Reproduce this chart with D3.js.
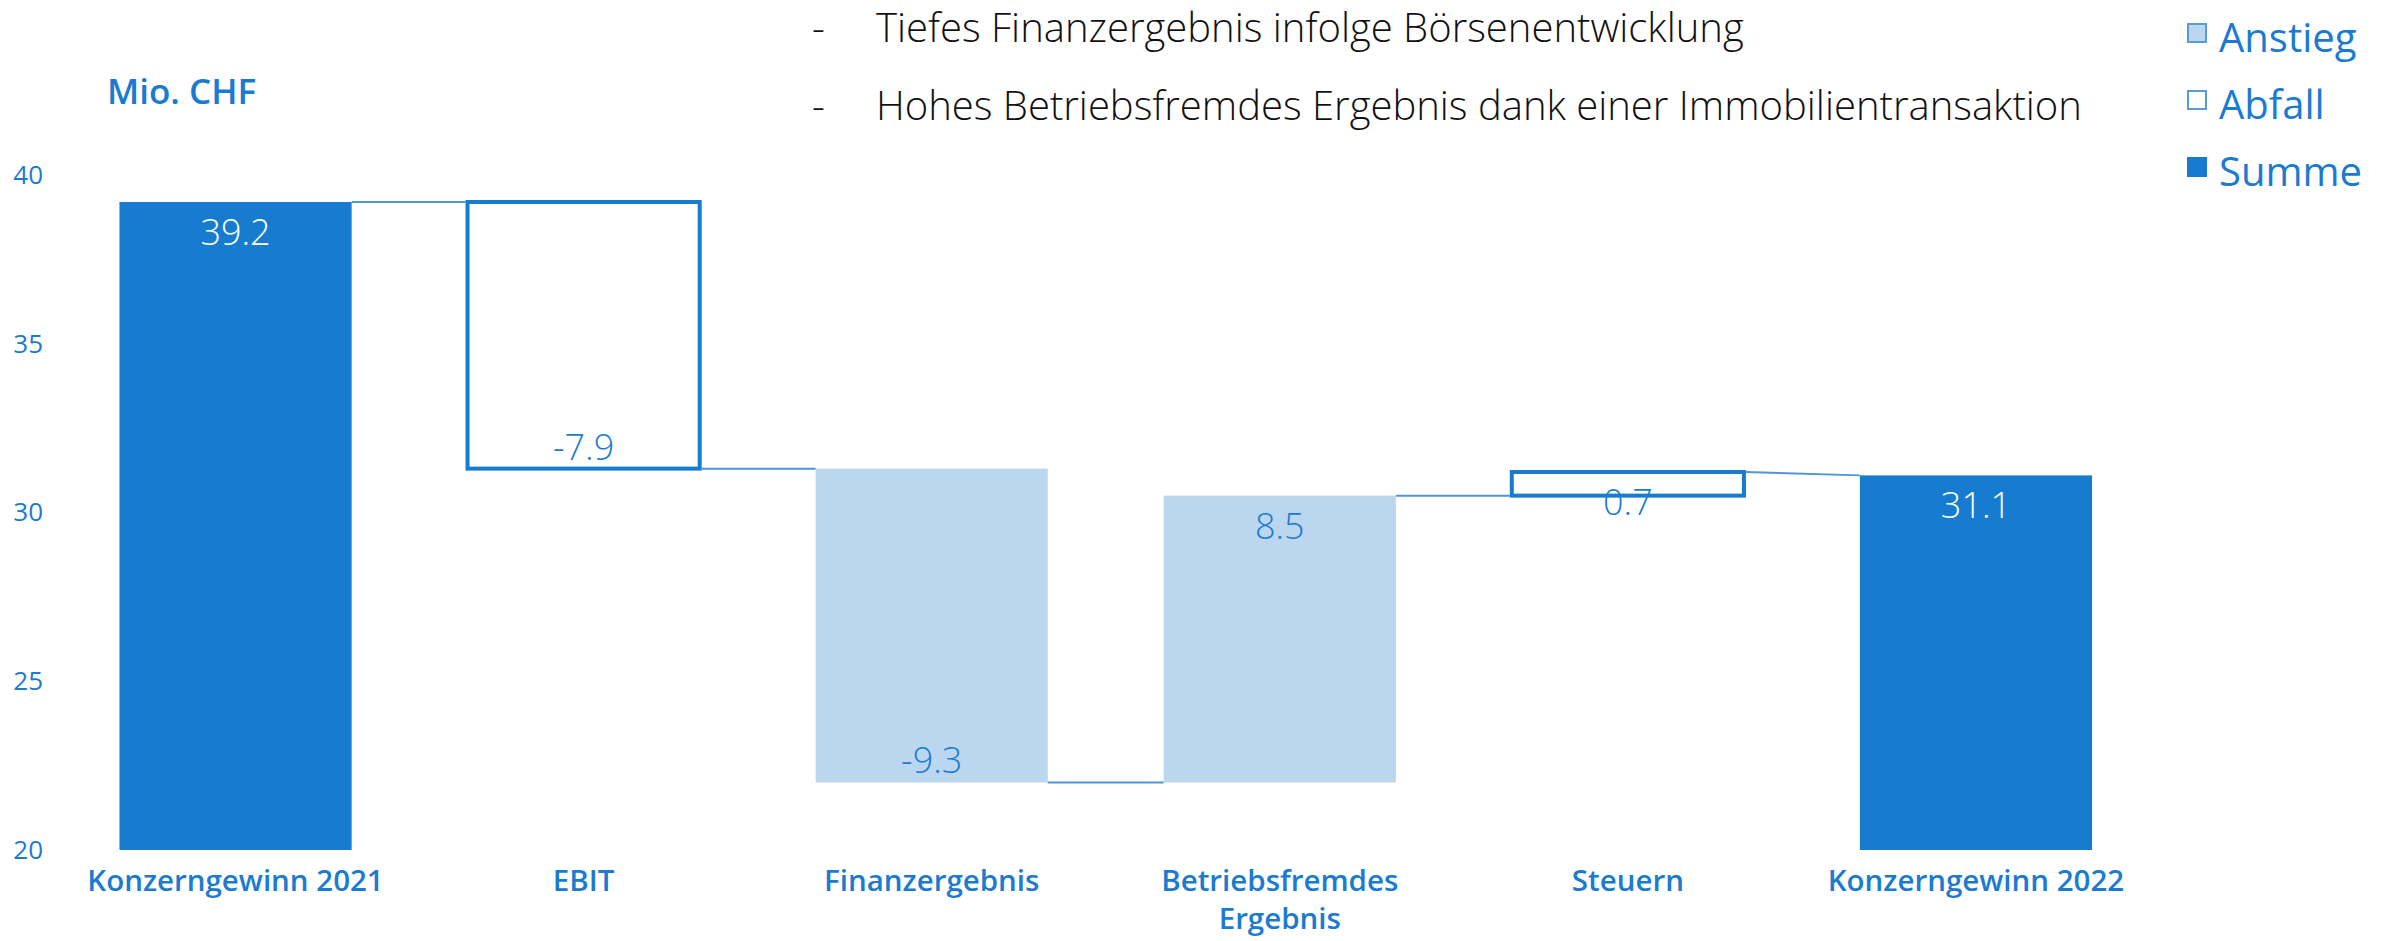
<!DOCTYPE html>
<html>
<head>
<meta charset="utf-8">
<script src="https://cdn.jsdelivr.net/npm/d3@7"></script>
<style>
  html, body { margin: 0; padding: 0; background: #fff; }
  svg { display: block; font-family: 'Open Sans', 'Noto Sans', sans-serif; }
</style>
</head>
<body>
<svg id="chart" width="2389" height="941"></svg>
<script>
// data
const categories = ['Konzerngewinn 2021', 'EBIT', 'Finanzergebnis', 'Betriebsfremdes Ergebnis', 'Steuern', 'Konzerngewinn 2022'];
const values = [39.2, -7.9, -9.3, 8.5, 0.7, 31.1];
const kinds = ['Summe', 'Abfall', 'Anstieg', 'Anstieg', 'Abfall', 'Summe'];
const yTicks = [20, 25, 30, 35, 40];
const legendItems = ['Anstieg', 'Abfall', 'Summe'];
const notes = ['Tiefes Finanzergebnis infolge Börsenentwicklung', 'Hohes Betriebsfremdes Ergebnis dank einer Immobilientransaktion'];

const font = "'Open Sans', 'Noto Sans', sans-serif";
const blue = '#177cd0';
const lightBlue = '#bbd7f0';
const textBlue = '#1b7bd0';
const connectorColor = '#4f95d8';

const svg = d3.select('#chart');

// scales
const x = d3.scaleBand()
  .domain(categories)
  .range([61.5, 2150])
  .paddingInner(0.333)
  .paddingOuter(0.1665);

const y = d3.scaleLinear()
  .domain([20, 40])
  .range([850, 175]);

const bw = x.bandwidth();
const base = y.domain()[0];

// running levels of the waterfall
let level = 0;
const steps = categories.map((c, i) => {
  const v = values[i];
  const kind = kinds[i];
  let start, end;
  if (kind === 'Summe') {
    start = base;
    end = v;
    level = v;
  } else {
    start = level;
    end = Math.round((level + v) * 10) / 10;
    level = end;
  }
  return {
    cat: c, v, kind, start, end,
    lo: Math.min(start, end), hi: Math.max(start, end),
    inLevel: kind === 'Summe' ? v : start,
    outLevel: kind === 'Summe' ? v : end
  };
});

// y axis (labels only)
const yAxis = svg.append('g')
  .attr('transform', 'translate(43,0)')
  .call(d3.axisLeft(y).tickValues(yTicks).tickSize(0).tickPadding(0));
yAxis.select('.domain').remove();
yAxis.attr('font-family', font);
yAxis.selectAll('text')
  .attr('fill', textBlue)
  .attr('font-size', 26)
  .attr('font-weight', 400);

// unit label
svg.append('text')
  .attr('x', 107)
  .attr('y', 104)
  .attr('fill', textBlue)
  .attr('font-size', 35)
  .attr('font-weight', 600)
  .text('Mio. CHF');

// bars
svg.append('g')
  .selectAll('rect')
  .data(steps)
  .join('rect')
  .attr('x', d => x(d.cat))
  .attr('y', d => y(d.hi))
  .attr('width', bw)
  .attr('height', d => y(d.lo) - y(d.hi))
  .attr('fill', d => d.kind === 'Summe' ? blue : d.kind === 'Anstieg' ? lightBlue : '#fff')
  .attr('stroke', d => d.kind === 'Abfall' ? blue : 'none')
  .attr('stroke-width', 4);

// connectors
const links = d3.pairs(steps);
svg.append('g')
  .selectAll('line')
  .data(links)
  .join('line')
  .attr('x1', d => x(d[0].cat) + bw + (d[0].kind === 'Abfall' ? 2 : 0))
  .attr('y1', d => y(d[0].outLevel))
  .attr('x2', d => x(d[1].cat) - (d[1].kind === 'Abfall' ? 2 : 0))
  .attr('y2', d => y(d[1].inLevel))
  .attr('stroke', connectorColor)
  .attr('stroke-width', 2);

// value labels
svg.append('g')
  .selectAll('text')
  .data(steps)
  .join('text')
  .attr('x', d => x(d.cat) + bw / 2)
  .attr('y', d => d.v >= 0 ? y(d.hi) + 30 : y(d.lo) - 22)
  .attr('dy', '0.36em')
  .attr('text-anchor', 'middle')
  .attr('font-size', 36)
  .attr('font-weight', 300)
  .attr('fill', d => d.kind === 'Summe' ? '#fff' : textBlue)
  .text(d => d.v.toFixed(1));

// x axis (labels only), wrapped when wider than the band step
const xAxis = svg.append('g')
  .attr('transform', 'translate(0,850)')
  .call(d3.axisBottom(x).tickSize(0));
xAxis.select('.domain').remove();
xAxis.attr('font-family', font);
xAxis.selectAll('text')
  .attr('fill', textBlue)
  .attr('font-size', 29.5)
  .attr('font-weight', 600)
  .attr('y', 41)
  .attr('dy', 0)
  .each(function () {
    const t = d3.select(this);
    const words = t.text().split(' ');
    if (this.getComputedTextLength() <= x.step() * 0.95) return;
    t.text(null);
    let line = [];
    let tspan = t.append('tspan').attr('x', 0).attr('dy', 0);
    words.forEach(w => {
      line.push(w);
      tspan.text(line.join(' '));
      if (tspan.node().getComputedTextLength() > x.step() * 0.75 && line.length > 1) {
        line.pop();
        tspan.text(line.join(' '));
        line = [w];
        tspan = t.append('tspan').attr('x', 0).attr('dy', 38).text(w);
      }
    });
  });

// notes at top
const noteG = svg.append('g');
notes.forEach((n, i) => {
  const by = 42 + i * 78;
  noteG.append('text')
    .attr('x', 812).attr('y', by)
    .attr('font-size', 40).attr('font-weight', 300)
    .attr('fill', '#111')
    .text('-');
  noteG.append('text')
    .attr('x', 876).attr('y', by)
    .attr('font-size', 40).attr('font-weight', 300)
    .attr('fill', '#111')
    .text(n);
});

// legend
const legend = svg.append('g')
  .attr('transform', 'translate(2187,23)')
  .selectAll('g')
  .data(legendItems)
  .join('g')
  .attr('transform', (d, i) => `translate(0,${i * 67})`);

legend.append('rect')
  .attr('x', 1).attr('y', 1)
  .attr('width', 18).attr('height', 18)
  .attr('fill', d => d === 'Summe' ? blue : d === 'Anstieg' ? lightBlue : '#fff')
  .attr('stroke', d => d === 'Summe' ? blue : '#5b9bd5')
  .attr('stroke-width', 2);

legend.append('text')
  .attr('x', 32)
  .attr('y', 29)
  .attr('font-size', 40)
  .attr('fill', textBlue)
  .text(d => d);
</script>
</body>
</html>
